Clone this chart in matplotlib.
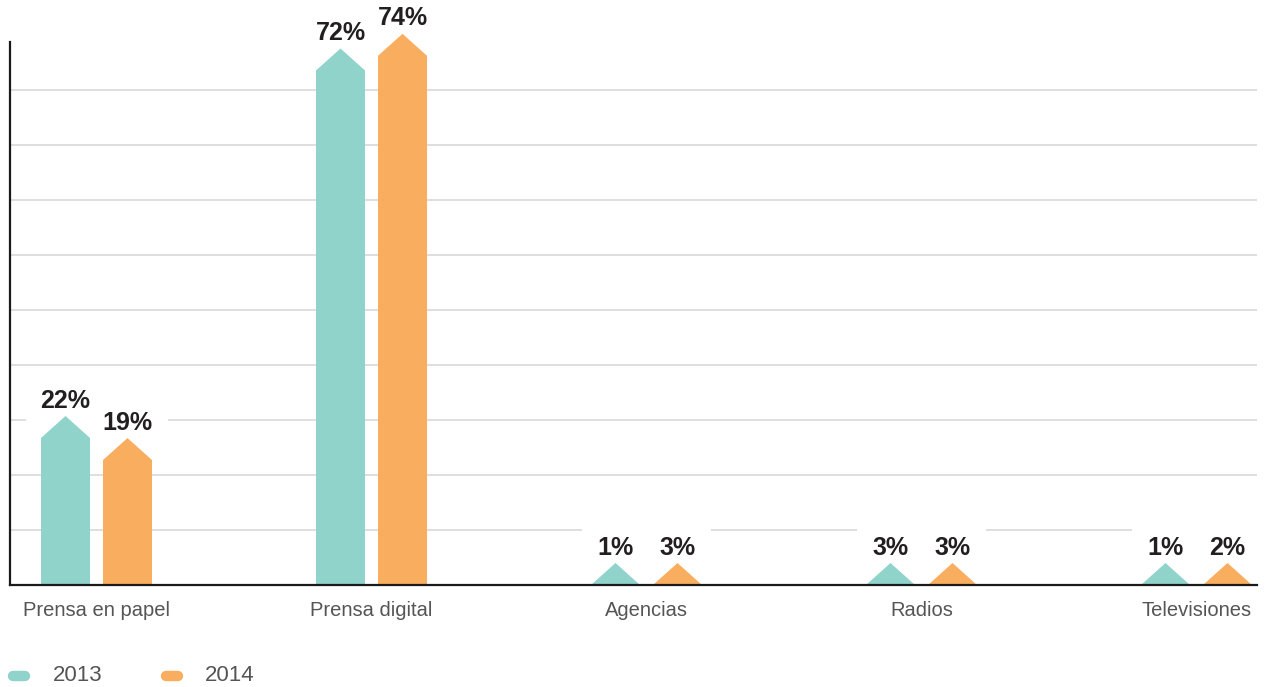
import numpy as np
import matplotlib
matplotlib.use("Agg")
from matplotlib import pyplot as plt
from matplotlib.patches import Polygon
from matplotlib.lines import Line2D

plt.rcParams['font.family'] = ['Liberation Sans', 'DejaVu Sans']

categories = ['Prensa en papel', 'Prensa digital', 'Agencias', 'Radios', 'Televisiones']
years = ['2013', '2014']
v2013 = [22, 72, 1, 3, 1]
v2014 = [19, 74, 3, 3, 2]

colors = ['#8fd3cb', '#f9ae5f']
W, H = 1271, 687

fig = plt.figure(figsize=(W / 100, H / 100), dpi=100)
ax = fig.add_axes([10 / W, 102 / H, 1247 / W, 543 / H])

px_x = 275.0        # px per category
px_y = 7.35         # px per percent
tip = 22 / px_y     # arrow head height in data units
half = 24.5 / px_x
off = 31 / px_x

ax.set_xlim((10 - 96.5) / px_x, (1257 - 96.5) / px_x)
ax.set_ylim(0, 543 / px_y)

x = np.arange(len(categories))
for j, vals in enumerate([v2013, v2014]):
    for i, v in enumerate(vals):
        c = x[i] + (off if j else -off)
        # tiny values only get the arrow head
        s = v - 2 if v - 2 > tip else 0
        pts = [(c - half, 0), (c - half, s), (c, s + tip), (c + half, s), (c + half, 0)]
        ax.add_patch(Polygon(pts, closed=True, facecolor=colors[j], edgecolor='none',
                             zorder=4, clip_on=False))
        kw = dict(xytext=(0, 6), textcoords='offset points', ha='center', va='baseline',
                  fontsize=18, fontweight='bold', annotation_clip=False)
        # white box behind label breaks the gridlines
        ax.annotate(f'{v}%', (c, s + tip), color='none', zorder=1,
                    bbox=dict(boxstyle='square,pad=0.6', fc='white', ec='none'), **kw)
        ax.annotate(f'{v}%', (c, s + tip), color='#231f20', zorder=6, **kw)

grid = np.arange(1, 10) * 55 / px_y
for g in grid:
    ax.axhline(g, color='#d9d9d9', lw=1.2, zorder=0)

ax.set_xticks(x)
ax.set_xticklabels(categories, fontsize=14.5, color='#555555')
ax.tick_params(axis='x', length=0, pad=11.5)
ax.set_yticks([])
for sp in ['top', 'right']:
    ax.spines[sp].set_visible(False)
for sp in ['left', 'bottom']:
    ax.spines[sp].set_color('#1a1a1a')
    ax.spines[sp].set_linewidth(1.6)
    ax.spines[sp].set_zorder(5)

# legend
ly = (H - 675.5) / H
for k, (x0, tx) in enumerate([(8, 53), (161, 205)]):
    fig.add_artist(Line2D([(x0 + 5) / W, (x0 + 17) / W], [ly, ly], transform=fig.transFigure,
                          color=colors[k], lw=7.5, solid_capstyle='round'))
    fig.text(tx / W, ly, years[k], fontsize=16, color='#555555', va='center', ha='left')

fig.savefig('out.png', dpi=100)
